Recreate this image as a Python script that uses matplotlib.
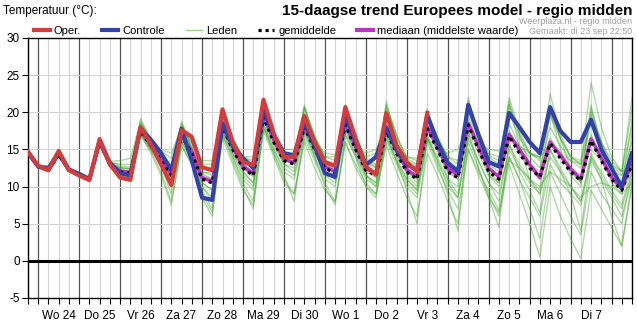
import numpy as np
import matplotlib
matplotlib.use('Agg')
import matplotlib.pyplot as plt
from matplotlib.lines import Line2D
import matplotlib.transforms as mtransforms

plt.rcParams['font.family'] = ['Liberation Sans', 'DejaVu Sans']
plt.rcParams['axes.unicode_minus'] = False

# 6-hourly values, first point = di 23 sep 18:00, last = wo 8 okt 12:00
day_labels = ['Wo 24', 'Do 25', 'Vr 26', 'Za 27', 'Zo 28', 'Ma 29', 'Di 30',
              'Wo 1', 'Do 2', 'Vr 3', 'Za 4', 'Zo 5', 'Ma 6', 'Di 7']

oper = [14.7,
        12.8, 12.2, 14.8, 12.2, 11.5, 10.9, 16.4, 13.0, 11.2, 10.9, 18.0, 15.7,
        13.0, 10.2, 17.6, 16.7, 12.6, 12.2, 20.4, 16.0, 13.3, 12.9, 21.7, 17.2,
        14.0, 14.0, 19.5, 16.0, 13.3, 12.8, 20.7, 16.5, 12.7, 11.6, 19.9, 15.5,
        13.3, 12.0, 19.9]

controle = [14.6,
            12.7, 12.5, 14.6, 12.3, 11.7, 11.0, 16.2, 13.2, 11.8, 11.5, 17.8, 16.3,
            14.5, 12.2, 17.8, 13.5, 8.5, 8.2, 18.5, 15.5, 13.8, 12.5, 20.3, 17.0,
            14.5, 14.2, 18.7, 15.5, 11.8, 11.3, 19.8, 16.0, 12.9, 14.0, 18.0, 15.0,
            13.0, 12.2, 19.6, 16.0, 13.2, 12.0, 21.0, 17.0, 13.3, 12.7, 19.9, 18.0,
            16.0, 14.5, 20.7, 17.5, 16.0, 16.0, 19.0, 15.0, 12.5, 10.0, 14.5]

gemiddelde = [14.5,
              12.7, 12.2, 14.3, 12.2, 11.6, 11.0, 15.9, 13.0, 12.0, 11.8, 17.5, 15.5,
              13.5, 11.5, 16.8, 14.5, 11.0, 10.5, 18.0, 15.0, 12.5, 11.5, 19.3, 16.0,
              13.5, 13.0, 18.0, 15.0, 12.5, 11.8, 18.3, 15.0, 12.2, 11.5, 17.5, 14.5,
              12.0, 11.0, 17.8, 15.0, 12.0, 11.2, 18.3, 15.0, 12.0, 11.0, 16.8, 14.5,
              12.5, 11.3, 15.8, 13.8, 12.0, 10.8, 16.2, 13.5, 11.0, 9.5, 13.0]

mediaan = [14.5,
           12.7, 12.2, 14.4, 12.2, 11.6, 11.0, 16.0, 13.0, 12.1, 11.9, 17.6, 15.6,
           13.6, 11.6, 16.9, 14.7, 11.2, 10.7, 18.2, 15.3, 12.7, 11.7, 19.5, 16.3,
           13.7, 13.2, 18.2, 15.3, 12.7, 12.0, 18.5, 15.3, 12.4, 11.8, 17.7, 14.8,
           12.3, 11.3, 18.0, 15.4, 12.5, 11.5, 18.5, 15.4, 12.5, 11.3, 17.0, 15.0,
           13.0, 11.2, 16.0, 14.2, 12.4, 11.0, 16.4, 13.9, 11.3, 9.7, 13.2]

leden = [
    [14.8, 12.9, 12.4, 14.7, 12.4, 11.8, 11.2, 16.2, 13.3, 12.8, 12.6, 18.4, 16.3, 14.5, 13.0, 18.2, 15.8,
     12.8, 12.3, 19.3, 16.5, 14.0, 13.2, 20.3, 17.0, 14.5, 14.2, 20.8, 16.8, 14.0, 13.5, 20.5, 16.5,
     13.8, 13.0, 19.5, 16.0, 13.5, 12.8, 19.8, 16.8, 14.0, 13.0, 21.5, 17.5, 14.2, 13.5, 21.0, 17.0,
     14.5, 13.8, 20.0, 16.5, 14.0, 13.0, 19.5, 16.0, 13.5, 12.0, 18.0],
    [14.3, 12.5, 12.0, 14.0, 12.0, 11.3, 10.6, 15.5, 12.6, 11.3, 11.0, 17.0, 14.8, 12.0, 8.0, 15.5, 13.0,
     9.0, 6.5, 16.5, 13.0, 9.5, 7.5, 17.5, 14.0, 10.5, 9.0, 16.0, 12.5, 9.5, 8.0, 16.0, 12.5,
     10.0, 9.0, 15.5, 12.0, 8.5, 6.0, 14.5, 11.5, 8.0, 5.0, 15.0, 11.5, 8.5, 6.5, 14.0, 11.0,
     8.5, 6.0, 13.0, 10.5, 9.0, 7.5, 13.5, 11.0, 8.5, 6.0, 11.0],
    [14.6, 12.8, 12.3, 14.5, 12.3, 11.7, 11.1, 16.0, 13.1, 12.3, 12.0, 17.8, 15.8, 13.8, 12.0, 17.0, 14.8,
     11.5, 11.0, 18.3, 15.3, 12.8, 12.0, 19.5, 16.3, 13.8, 13.3, 18.5, 15.5, 13.0, 12.5, 18.8, 15.5,
     12.8, 12.0, 18.0, 15.0, 12.5, 11.5, 18.5, 15.8, 12.8, 12.0, 19.0, 15.5, 12.5, 11.5, 17.5, 15.0,
     13.0, 12.0, 16.5, 14.5, 12.5, 11.5, 17.0, 14.0, 11.5, 10.0, 14.0],
    [14.5, 12.6, 12.1, 14.2, 12.1, 11.5, 10.9, 15.8, 12.9, 11.8, 11.5, 17.3, 15.3, 13.2, 11.0, 16.5, 14.3,
     10.5, 9.5, 17.5, 14.5, 12.0, 10.5, 18.5, 15.5, 13.0, 12.0, 17.5, 14.5, 12.0, 11.0, 17.8, 14.5,
     11.5, 10.5, 17.0, 14.0, 11.0, 9.5, 17.0, 13.5, 10.5, 8.5, 16.0, 12.5, 9.0, 6.0, 13.0, 9.0,
     5.0, 0.5, 10.0, 6.0, 3.0, 0.3, 9.5, 7.0, 4.5, 2.0, 10.0],
    [14.7, 12.8, 12.2, 14.6, 12.3, 11.6, 11.0, 16.1, 13.2, 12.5, 12.3, 18.0, 16.0, 14.0, 12.8, 17.5, 15.3,
     12.0, 11.8, 18.8, 15.8, 13.5, 12.8, 20.0, 16.8, 14.3, 14.0, 19.8, 16.0, 13.5, 13.0, 19.5, 16.0,
     13.5, 12.8, 20.8, 17.0, 13.8, 13.0, 20.3, 16.5, 13.5, 12.5, 20.0, 16.5, 14.0, 13.0, 22.0, 17.5,
     14.5, 13.5, 22.5, 17.0, 14.0, 13.0, 24.0, 18.0, 14.0, 12.0, 22.0],
    [14.4, 12.6, 12.1, 14.1, 12.1, 11.4, 10.8, 15.6, 12.8, 11.5, 11.2, 17.0, 15.0, 12.8, 10.0, 16.0, 13.8,
     10.0, 8.5, 17.0, 14.0, 11.0, 9.5, 18.0, 15.0, 12.0, 11.0, 17.0, 14.0, 11.0, 10.0, 17.0, 14.0,
     11.0, 10.0, 16.5, 13.5, 10.5, 9.0, 16.5, 13.5, 10.0, 8.5, 17.0, 13.5, 10.5, 9.0, 15.0, 12.5,
     10.5, 9.0, 14.0, 12.0, 10.0, 8.0, 14.5, 11.5, 9.0, 7.0, 12.0],
    [14.6, 12.9, 12.5, 14.6, 12.5, 11.9, 11.3, 16.1, 13.4, 13.5, 13.8, 18.8, 16.5, 15.0, 14.5, 17.8, 15.8,
     13.5, 13.5, 18.5, 16.0, 14.0, 14.0, 19.0, 16.5, 15.0, 15.0, 19.0, 16.0, 14.5, 14.3, 18.0, 15.5,
     14.5, 15.0, 17.5, 15.5, 14.0, 13.8, 16.5, 15.0, 14.5, 15.0, 18.0, 16.0, 15.0, 14.8, 17.0, 15.5,
     14.5, 14.0, 15.5, 14.5, 13.5, 13.0, 15.0, 13.5, 12.0, 11.5, 14.0],
    [14.5, 12.7, 12.2, 14.4, 12.2, 11.6, 11.0, 16.0, 13.0, 12.0, 11.8, 19.2, 16.0, 13.0, 10.5, 18.8, 15.0,
     10.5, 9.5, 19.3, 15.5, 12.0, 10.5, 20.5, 16.0, 13.0, 12.5, 21.0, 15.8, 12.0, 11.0, 21.0, 16.0,
     11.5, 10.5, 21.5, 16.0, 11.5, 10.0, 20.5, 15.5, 11.0, 10.0, 22.0, 16.5, 11.5, 10.0, 21.0, 15.5,
     11.0, 9.5, 20.0, 15.0, 11.5, 10.0, 21.0, 15.0, 10.5, 9.0, 17.0],
    [14.4, 12.5, 12.0, 14.1, 12.0, 11.4, 10.8, 15.7, 12.7, 11.7, 11.3, 17.2, 15.0, 12.8, 9.0, 16.0, 13.5,
     8.5, 6.0, 17.0, 13.5, 10.0, 7.0, 18.0, 14.5, 11.5, 8.0, 17.5, 14.0, 10.0, 7.5, 17.0, 14.0,
     10.0, 8.5, 17.0, 13.5, 9.5, 5.0, 16.5, 13.0, 9.0, 4.0, 17.5, 12.5, 8.5, 4.5, 16.0, 12.0,
     9.5, 6.5, 15.0, 12.0, 9.0, 4.0, 14.0, 11.0, 6.0, 2.0, 10.5],
    [14.5, 12.7, 12.2, 14.3, 12.2, 11.6, 11.0, 15.9, 13.0, 12.2, 12.0, 17.5, 15.5, 13.3, 11.5, 16.5, 14.3,
     11.0, 10.5, 18.0, 15.0, 12.5, 11.3, 19.0, 16.0, 13.5, 13.0, 18.0, 15.0, 12.5, 11.5, 18.0, 15.0,
     12.0, 11.2, 17.5, 14.5, 12.0, 11.0, 17.5, 15.0, 12.0, 11.0, 18.5, 15.0, 12.0, 10.5, 17.0, 14.5,
     12.5, 11.0, 16.0, 14.0, 12.0, 10.5, 16.5, 13.5, 11.0, 9.5, 13.0],
    [14.6, 12.7, 12.3, 14.5, 12.3, 11.7, 11.1, 16.1, 13.1, 12.5, 12.4, 18.2, 16.0, 14.2, 12.5, 17.2, 15.0,
     11.8, 11.0, 18.5, 15.5, 13.0, 12.0, 19.8, 16.5, 14.0, 13.5, 19.2, 15.8, 13.0, 12.3, 19.5, 16.0,
     13.2, 12.5, 19.0, 16.0, 13.0, 12.0, 19.0, 16.0, 13.0, 12.5, 19.5, 16.0, 13.0, 12.0, 18.5, 15.5,
     14.0, 12.5, 18.0, 15.5, 13.5, 12.5, 18.5, 15.0, 13.0, 11.5, 16.0],
    [14.4, 12.6, 12.1, 14.2, 12.1, 11.5, 10.9, 15.8, 12.9, 11.8, 11.6, 17.2, 15.2, 13.0, 10.8, 16.2, 14.0,
     10.0, 8.0, 17.5, 14.5, 11.5, 10.0, 18.5, 15.0, 12.5, 11.5, 17.5, 14.5, 11.5, 10.5, 17.5, 14.3,
     11.5, 10.0, 16.5, 13.5, 11.0, 9.5, 16.5, 14.0, 11.0, 9.0, 16.5, 13.5, 10.5, 8.0, 15.5, 13.0,
     11.0, 9.0, 15.0, 12.5, 10.0, 8.0, 14.0, 12.0, 9.5, 7.5, 12.5],
    [14.6, 12.8, 12.3, 14.6, 12.4, 11.7, 11.1, 16.2, 13.2, 12.6, 12.4, 18.5, 16.2, 14.2, 12.5, 18.0, 15.3,
     12.0, 11.5, 19.0, 15.5, 13.0, 12.0, 20.0, 16.5, 14.0, 13.5, 20.5, 16.5, 13.5, 12.5, 20.8, 17.0,
     13.5, 12.5, 21.0, 17.0, 13.0, 12.0, 19.5, 16.5, 13.0, 12.0, 21.0, 17.0, 13.5, 12.5, 21.5, 17.0,
     13.0, 11.5, 21.0, 16.5, 12.5, 10.5, 20.5, 16.0, 12.0, 10.0, 19.0],
    [14.5, 12.6, 12.1, 14.3, 12.1, 11.5, 10.9, 15.9, 12.9, 11.5, 11.0, 17.0, 14.5, 11.5, 7.5, 15.5, 13.0,
     9.5, 7.0, 17.5, 14.0, 10.5, 8.0, 18.0, 14.5, 11.0, 9.0, 16.5, 13.5, 10.5, 8.0, 16.0, 13.0,
     10.5, 9.0, 16.0, 13.0, 10.0, 8.5, 16.0, 12.5, 9.5, 7.0, 15.0, 12.0, 9.5, 6.8, 14.0, 11.0,
     7.0, 3.0, 12.0, 9.0, 6.0, 3.5, 12.0, 9.0, 7.0, 5.0, 12.0],
    [14.7, 12.8, 12.4, 14.8, 12.4, 11.8, 11.2, 16.3, 13.3, 13.0, 13.0, 18.5, 16.3, 14.8, 13.8, 18.5, 16.0,
     13.0, 13.0, 19.5, 16.5, 14.0, 13.5, 20.5, 17.0, 14.5, 14.5, 20.5, 16.8, 14.0, 14.0, 20.0, 16.5,
     14.0, 14.5, 20.5, 16.5, 14.0, 13.5, 19.5, 16.5, 14.0, 13.5, 20.5, 17.0, 14.5, 14.0, 20.0, 16.5,
     14.5, 14.0, 19.5, 16.5, 14.0, 13.5, 20.0, 16.0, 13.0, 12.0, 20.5],
    [14.5, 12.7, 12.2, 14.4, 12.2, 11.6, 11.0, 16.0, 13.0, 12.2, 12.0, 17.6, 15.6, 13.6, 11.8, 17.0, 14.6,
     11.2, 10.8, 18.2, 15.2, 12.6, 11.8, 19.2, 16.2, 13.6, 13.2, 18.2, 15.2, 12.6, 12.0, 18.5, 15.2,
     12.5, 11.5, 18.0, 14.8, 12.0, 10.5, 18.0, 15.0, 12.0, 11.0, 17.5, 14.5, 11.5, 10.5, 13.5, 12.5,
     11.0, 10.0, 12.0, 11.0, 10.0, 8.5, 10.0, 10.5, 10.0, 9.0, 10.5],
]

n = len(controle)
hours = np.arange(n) * 6          # hours since di 23 sep 18:00
hours_oper = hours[:len(oper)]

fig = plt.figure(figsize=(6.37, 3.22), dpi=100)
ax = fig.add_axes([28/637, 24/322, 604/637, 260/322])

# grid: light every 6 h, dark at midnight
for h in range(0, 355, 6):
    if (h - 6) % 24 == 0:
        ax.axvline(h, color='#555555', lw=0.9, zorder=1)
    else:
        ax.axvline(h, color='#d4d4d4', lw=0.8, zorder=1)
for yv in [5, 10, 15, 20, 25]:
    ax.axhline(yv, color='#d4d4d4', lw=0.8, zorder=1)
ax.axhline(0, color='black', lw=2.2, zorder=2)

for m in leden:
    ax.plot(hours, m, color='#3ea828', lw=1.0, alpha=0.42, zorder=3)
ax.plot(hours, mediaan, color='#c030c8', lw=2.5, zorder=4)
ax.plot(hours, gemiddelde, color='black', lw=2.3, ls=(0, (1, 1.2)), zorder=5)
ax.plot(hours, controle, color='#3341a8', lw=3, zorder=6)
ax.plot(hours_oper, oper, color='#d23c3c', lw=3, zorder=7)

ax.set_xlim(0, 354)
ax.set_ylim(-5, 30)
ax.set_yticks(range(-5, 31, 5))
ax.set_xticks(list(range(0, 355, 6)))
ax.set_xticklabels([])
ax.tick_params(axis='x', length=4, direction='out', color='black')
ax.tick_params(axis='y', length=4, direction='out', labelsize=8.5, pad=2)
trans = mtransforms.blended_transform_factory(ax.transData, ax.transAxes)
for k, lab in enumerate(day_labels):
    ax.text(18 + 24 * k, -0.045, lab, transform=trans, ha='center', va='top', fontsize=8.5)
for s in ax.spines.values():
    s.set_color('black')
    s.set_linewidth(1)

fig.text(3/637, 1 - 11/322, 'Temperatuur (°C):', fontsize=8.5, va='center', ha='left')
fig.text(632/637, 1 - 11/322, '15-daagse trend Europees model - regio midden',
         fontsize=11, fontweight='bold', va='center', ha='right')
fig.text(632/637, 1 - 21/322, 'Weerplaza.nl - regio midden', fontsize=6.5,
         color='#a0a0a0', va='center', ha='right')
fig.text(632/637, 1 - 32/322, 'Gemaakt: di 23 sep 22:50', fontsize=6.5,
         color='#a0a0a0', va='center', ha='right')

handles = [Line2D([], [], color='#d23c3c', lw=3),
           Line2D([], [], color='#3341a8', lw=3),
           Line2D([], [], color='#9fd08a', lw=1),
           Line2D([], [], color='black', lw=2.3, ls=(0, (1, 1.2))),
           Line2D([], [], color='#c030c8', lw=3)]
names = ['Oper.', 'Controle', 'Leden', 'gemiddelde', 'mediaan (middelste waarde)']
fig.legend(handles, names, loc='center left', bbox_to_anchor=(34/637, 1 - 31/322),
           ncol=5, frameon=False, fontsize=8, handlelength=1.4, handletextpad=0.4,
           columnspacing=1.9, borderpad=0, borderaxespad=0)

fig.savefig('out.png', dpi=100)
